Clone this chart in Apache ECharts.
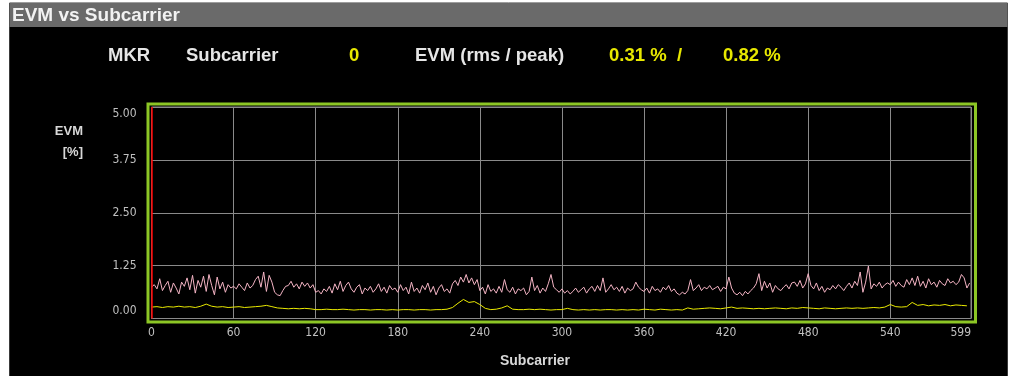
<!DOCTYPE html>
<html>
<head>
<meta charset="utf-8">
<script src="https://cdn.jsdelivr.net/npm/echarts@6.0.0/dist/echarts.min.js"></script>
<style>
  html, body { margin: 0; padding: 0; background: #fff; }
  #chart { width: 1009px; height: 376px; }
</style>
</head>
<body>
<div id="chart"></div>
<script>
// EVM peak trace (pink), one value every 2 subcarriers, 0..598
const PEAK_STEP = 2
const evmPeak = [
  0.74,0.80,0.70,0.94,0.66,0.78,0.88,0.62,0.84,0.72,
  0.58,0.86,0.76,0.96,0.68,1.02,0.60,0.90,0.74,1.00,
  0.64,1.04,0.78,0.56,0.98,0.70,0.86,0.62,0.80,0.72,
  0.76,0.70,0.82,0.74,0.66,0.84,0.72,0.78,0.92,1.00,
  0.74,1.10,0.64,1.02,0.86,0.62,0.56,0.54,0.66,0.76,
  0.78,0.88,0.74,0.82,0.70,0.86,0.76,0.84,0.72,0.80,
  0.62,0.66,0.58,0.70,0.64,0.76,0.60,0.82,0.68,0.88,
  0.64,0.78,0.86,0.70,0.62,0.74,0.80,0.58,0.72,0.66,
  0.76,0.62,0.70,0.82,0.64,0.74,0.60,0.78,0.68,0.72,
  0.62,0.80,0.66,0.74,0.58,0.86,0.64,0.72,0.60,0.78,
  0.68,0.84,0.62,0.76,0.56,0.72,0.80,0.64,0.70,0.60,
  0.82,0.90,0.78,0.98,0.86,1.04,0.84,0.96,0.80,0.92,
  0.66,0.74,0.58,0.80,0.64,0.70,0.60,0.76,0.62,0.92,
  0.68,0.62,0.74,0.58,0.70,0.66,0.72,0.56,0.64,0.98,
  0.66,0.78,0.60,0.72,0.64,0.82,1.04,0.74,0.68,0.62,
  0.70,0.60,0.66,0.58,0.64,0.72,0.62,0.68,0.74,0.60,
  0.70,0.76,0.64,0.78,0.66,0.96,0.62,0.70,0.80,0.68,
  0.74,0.64,0.76,0.60,0.72,0.66,0.70,0.86,0.74,0.68,
  0.64,0.72,0.60,0.76,0.66,0.70,0.62,0.74,0.68,0.78,
  0.64,0.70,0.60,0.56,0.62,0.58,0.66,0.92,0.66,0.72,
  0.80,0.66,0.74,0.70,0.78,0.68,0.72,0.76,0.64,0.74,
  0.70,0.98,0.72,0.60,0.56,0.62,0.54,0.64,0.58,0.66,
  0.72,0.82,1.06,0.66,0.88,0.72,0.84,0.62,0.78,0.70,
  0.66,0.74,0.80,0.70,0.84,0.86,0.76,0.90,0.72,0.82,
  1.06,0.78,0.70,0.84,0.66,0.76,0.62,0.72,0.68,0.78,
  0.70,0.80,0.74,0.66,0.76,0.84,0.72,0.88,0.78,1.10,
  0.62,0.86,1.24,0.70,0.82,0.76,0.86,0.72,0.80,0.84,
  0.80,0.90,0.76,0.86,0.78,0.74,0.92,0.80,0.96,0.78,
  1.00,0.76,0.88,0.72,0.94,0.80,0.86,0.74,0.90,0.82,
  0.78,0.94,0.84,0.88,0.80,0.86,1.04,0.96,0.72,0.84
]

// EVM rms trace (yellow), one value every 4 subcarriers, 0..596
const RMS_STEP = 4
const evmRms = [
  0.27,0.28,0.26,0.28,0.27,0.29,0.27,0.28,0.26,0.29,
  0.34,0.29,0.27,0.28,0.26,0.27,0.28,0.26,0.27,0.28,
  0.29,0.31,0.28,0.25,0.24,0.23,0.24,0.23,0.24,0.23,
  0.21,0.21,0.22,0.21,0.21,0.22,0.21,0.20,0.21,0.21,
  0.20,0.21,0.21,0.20,0.21,0.20,0.21,0.21,0.20,0.21,
  0.21,0.20,0.21,0.21,0.22,0.26,0.36,0.45,0.38,0.40,
  0.33,0.24,0.21,0.22,0.25,0.30,0.22,0.21,0.21,0.22,
  0.21,0.22,0.21,0.20,0.21,0.21,0.24,0.21,0.20,0.21,
  0.20,0.21,0.20,0.21,0.21,0.20,0.21,0.20,0.21,0.20,
  0.22,0.21,0.20,0.22,0.21,0.20,0.21,0.20,0.25,0.22,
  0.23,0.24,0.25,0.24,0.23,0.25,0.27,0.24,0.25,0.24,
  0.23,0.24,0.23,0.24,0.25,0.24,0.23,0.25,0.24,0.26,
  0.25,0.24,0.23,0.25,0.24,0.23,0.24,0.25,0.24,0.25,
  0.24,0.25,0.26,0.25,0.27,0.33,0.28,0.27,0.28,0.38,
  0.31,0.33,0.30,0.32,0.31,0.33,0.30,0.32,0.31,0.30
]

const yTicks = [0, 1.25, 2.5, 3.75, 5]
const markerSubcarrier = 0
const markerText = '0'
const rmsText = '0.31 %  /'
const peakText = '0.82 %'

const chart = echarts.init(document.getElementById('chart'))

const labelFont = "'Liberation Sans Narrow', 'DejaVu Sans Condensed', 'Liberation Sans', sans-serif"
const mainFont = "'Liberation Sans', Arial, sans-serif"

const headerText = (x, text, color) => ({
  type: 'text', x: x, y: 56, z: 5,
  style: { text: text, fill: color, font: 'bold 18.5px ' + mainFont, verticalAlign: 'middle' }
})

const option = {
  backgroundColor: '#fff',
  animation: false,
  grid: { left: 151.5, right: 38, top: 107, bottom: 57.5, show: true, borderColor: '#8a8a8a', borderWidth: 1 },
  xAxis: {
    type: 'value', min: 0, max: 599, interval: 60,
    axisLine: { show: false }, axisTick: { show: false },
    splitLine: { show: true, lineStyle: { color: '#8a8a8a', width: 1 } },
    axisLabel: { color: '#c0c0c0', fontSize: 12, fontFamily: labelFont, margin: 8, showMaxLabel: true, alignMaxLabel: 'right' }
  },
  yAxis: {
    type: 'value', min: yTicks[0], max: yTicks[yTicks.length - 1], interval: 1.25,
    axisLine: { show: false }, axisTick: { show: false },
    splitLine: { show: true, lineStyle: { color: '#8a8a8a', width: 1 } },
    axisLabel: {
      color: '#c0c0c0', fontSize: 12, fontFamily: labelFont, margin: 15,
      formatter: v => v === 5 ? '{hi|5.00}' : v === 0 ? '{lo|0.00}' : v.toFixed(2),
      rich: {
        hi: { color: '#c0c0c0', fontSize: 12, fontFamily: labelFont, padding: [14, 0, 0, 0] },
        lo: { color: '#c0c0c0', fontSize: 12, fontFamily: labelFont, padding: [0, 0, 15, 0] }
      }
    }
  },
  graphic: [
    // dark panel + title bar
    { type: 'rect', z: -100, shape: { x: 9.5, y: 3, width: 998, height: 374 }, style: { fill: '#000', stroke: '#3a3a3a', lineWidth: 1 } },
    { type: 'rect', z: -99, shape: { x: 9.5, y: 3, width: 998, height: 24 }, style: { fill: '#6a6a6a' } },
    { type: 'text', x: 12, y: 15.5, z: 5, style: { text: 'EVM vs Subcarrier', fill: '#f2f2f2', font: 'bold 19px ' + mainFont, verticalAlign: 'middle' } },
    // marker header
    headerText(108, 'MKR', '#e6e6e6'),
    headerText(186, 'Subcarrier', '#e6e6e6'),
    headerText(349, markerText, '#e8e800'),
    headerText(415, 'EVM (rms / peak)', '#e6e6e6'),
    headerText(609, rmsText, '#e8e800'),
    headerText(723, peakText, '#e8e800'),
    // axis titles
    { type: 'text', x: 83, y: 131.5, z: 5, style: { text: 'EVM', fill: '#d8d8d8', font: 'bold 13px ' + mainFont, align: 'right', verticalAlign: 'middle' } },
    { type: 'text', x: 83, y: 152, z: 5, style: { text: '[%]', fill: '#d8d8d8', font: 'bold 13px ' + mainFont, align: 'right', verticalAlign: 'middle' } },
    { type: 'text', x: 535, y: 361.5, z: 5, style: { text: 'Subcarrier', fill: '#d8d8d8', font: 'bold 14px ' + mainFont, align: 'center', verticalAlign: 'middle' } },
    // green frame around the plot
    { type: 'rect', z: 20, shape: { x: 148, y: 104, width: 827.5, height: 218 }, style: { fill: 'none', stroke: '#8cc625', lineWidth: 3 } }
  ],
  series: [
    {
      name: 'EVM peak', type: 'line', symbol: 'none', z: 5,
      data: evmPeak.map((v, i) => [i * PEAK_STEP, v]),
      lineStyle: { color: '#f4b4c4', width: 1 },
      markLine: {
        silent: true, symbol: 'none', label: { show: false }, z: 10,
        lineStyle: { color: '#ff0000', type: 'solid', width: 1.5 },
        data: [{ xAxis: markerSubcarrier }]
      }
    },
    {
      name: 'EVM rms', type: 'line', symbol: 'none',
      data: evmRms.map((v, i) => [i * RMS_STEP, v]),
      lineStyle: { color: '#eaea00', width: 1 }
    }
  ]
}

chart.setOption(option)
</script>
</body>
</html>
